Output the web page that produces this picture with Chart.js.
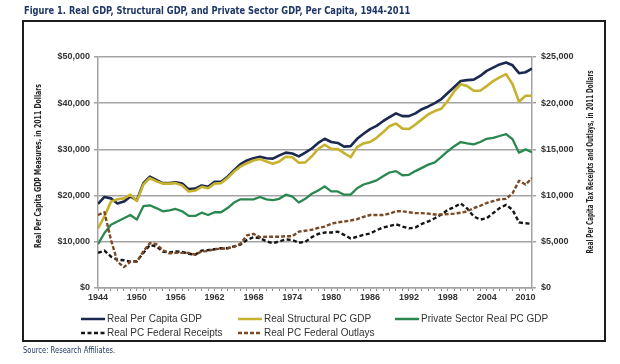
<!DOCTYPE html>
<html>
<head>
<meta charset="utf-8">
<script src="https://cdn.jsdelivr.net/npm/chart.js@4.4.1/dist/chart.umd.min.js"></script>
<style>
  html, body { margin: 0; padding: 0; background: #fff; }
  #wrap  { position: relative; width: 620px; height: 364px; overflow: hidden; }
  #chart { position: absolute; left: 0; top: 0; }
  .frame { position: absolute; left: 22px; top: 20px; width: 580px; height: 318px;
           border: 2px solid #1c1c1c; pointer-events: none; }
  .txt   { position: absolute; white-space: nowrap; transform-origin: 0 50%; }
  .rot   { position: absolute; white-space: nowrap; transform-origin: 50% 50%; }
  .narrow { font-family: 'Liberation Sans Narrow', 'DejaVu Sans Condensed', 'Liberation Sans', sans-serif; }
  #title  { left: 24px; top: 4px; font-size: 11px; font-weight: bold; color: #1f3667; }
  #source { left: 23px; top: 346px; font-size: 8px; color: #1f3667; }
  .axis-title { font-size: 8px; font-weight: bold; color: #222; }
  #legend { position: absolute; left: 81px; top: 312px; display: grid;
            grid-template-columns: 157px 157px 200px; row-gap: 1px;
            font-family: 'Liberation Sans', Arial, sans-serif; font-size: 10px; color: #333; }
  .lg-item { display: flex; align-items: center; height: 13px; }
  .lg-item svg { margin-right: 2px; }
</style>
</head>
<body>
<div id="wrap">
  <canvas id="chart" width="620" height="364"></canvas>
  <div class="frame"></div>
  <div id="title" class="txt narrow">Figure 1. Real GDP, Structural GDP, and Private Sector GDP, Per Capita, 1944-2011</div>
  <div id="ytitle-left" class="rot narrow axis-title" style="left:38px; top:166px;">Real Per Capita GDP Measures, in 2011 Dollars</div>
  <div id="ytitle-right" class="rot narrow axis-title" style="left:590px; top:162px;">Real Per Capita Tax Receipts and Outlays, in 2011 Dollars</div>
  <div id="legend"></div>
  <div id="source" class="txt narrow">Source: Research Affiliates.</div>
</div>
<script>
// ------------------------------------------------------------
// Real GDP / structural GDP / private GDP per capita, 1944-2011
// ------------------------------------------------------------

const YEARS = [
  1944,1945,1946,1947,1948,1949,1950,1951,1952,1953,1954,1955,1956,1957,1958,1959,
  1960,1961,1962,1963,1964,1965,1966,1967,1968,1969,1970,1971,1972,1973,1974,1975,
  1976,1977,1978,1979,1980,1981,1982,1983,1984,1985,1986,1987,1988,1989,1990,1991,
  1992,1993,1994,1995,1996,1997,1998,1999,2000,2001,2002,2003,2004,2005,2006,2007,
  2008,2009,2010,2011,
];

const X_TICK_LABELS = [1944,1950,1956,1962,1968,1974,1980,1986,1992,1998,2004,2010];

// Left axis, $
const REAL_PC_GDP = [
  18200,19700,19400,18300,18700,19800,19000,22700,24100,23400,22700,22700,22900,22600,21400,21500,
  22200,21900,23000,23000,24100,25500,26800,27600,28100,28400,28100,28000,28700,29300,29100,28500,
  29300,30200,31400,32300,31600,31400,30600,30700,32300,33400,34400,35100,36100,37000,37800,37200,
  37200,37800,38700,39300,40000,40900,42200,43500,44800,45000,45100,45900,47000,47700,48400,48800,
  48200,46500,46700,47500,
];

const STRUCTURAL_PC_GDP = [
  12900,15500,18700,19200,19400,20200,18800,22400,23800,23100,22600,22600,22700,22200,20900,21100,
  21900,21600,22600,22700,23800,25200,26300,27000,27600,27900,27400,26900,27400,28400,28300,27100,
  27200,28500,30100,31000,30100,30100,29200,28300,30500,31300,31600,32500,33700,35000,35600,34500,
  34400,35400,36500,37600,38300,38800,40500,42600,44100,43700,42700,42700,43700,44800,45600,46300,
  44100,40300,41600,41600,
];

const PRIVATE_PC_GDP = [
  9500,11900,13700,14400,15100,15800,14800,17700,17900,17300,16600,16800,17100,16600,15600,15600,
  16300,15800,16400,16400,17300,18500,19200,19200,19200,19700,19200,19000,19300,20200,19800,18500,
  19300,20400,21100,22000,20900,20900,20200,20200,21600,22400,22800,23300,24200,25000,25300,24400,
  24500,25300,26000,26700,27200,28400,29600,30700,31600,31300,31100,31600,32300,32500,32900,33300,
  32200,29300,30000,29400,
];

// Right axis, $
const FED_RECEIPTS = [
  3800,4050,3400,3050,3000,2850,2900,3800,4650,4500,3950,3850,3950,3900,3700,3600,
  4050,4100,4200,4300,4300,4500,4700,5200,5500,5400,5050,4850,5050,5250,5200,4900,
  5000,5500,5850,6000,6000,6100,5750,5350,5550,5750,5900,6250,6550,6700,6900,6650,
  6450,6550,6950,7200,7550,7950,8450,8750,9150,8600,7750,7400,7550,8100,8650,9000,
  8450,7100,7000,6950,
];

const FED_OUTLAYS = [
  7900,8200,5200,2850,2250,2850,2850,3950,4850,4750,4100,3750,3800,3800,3800,3600,
  3950,4000,4200,4250,4300,4450,4800,5700,5850,5500,5550,5550,5550,5600,5600,6100,
  6200,6300,6500,6650,6950,7100,7200,7300,7450,7700,7900,7900,7900,8050,8300,8300,
  8200,8100,8100,8050,7950,7950,8000,8050,8150,8300,8650,8900,9200,9400,9600,9650,
  10250,11600,11200,11900,
];

const SERIES = [
  { label: 'Real Per Capita GDP',        data: REAL_PC_GDP,       axis: 'y',  color: '#1b2850', width: 2.6, dash: [],     order: 5 },
  { label: 'Real Structural PC GDP',     data: STRUCTURAL_PC_GDP, axis: 'y',  color: '#c6b22e', width: 2.6, dash: [],     order: 4 },
  { label: 'Private Sector Real PC GDP', data: PRIVATE_PC_GDP,    axis: 'y',  color: '#2a8750', width: 2.3, dash: [],     order: 3 },
  { label: 'Real PC Federal Receipts',   data: FED_RECEIPTS,      axis: 'y2', color: '#151515', width: 2.4, dash: [4, 2.5], order: 2 },
  { label: 'Real PC Federal Outlays',    data: FED_OUTLAYS,       axis: 'y2', color: '#7a4a26', width: 2.4, dash: [4, 2],   order: 1 },
];

const TICK_FONT = { family: "'Liberation Sans', Arial, sans-serif", size: 9, weight: 'bold' };
const GRID_GREY = '#a3a3a3';

// ---- Chart ----

new Chart(document.getElementById('chart'), {
  type: 'line',
  data: {
    datasets: SERIES.map(s => ({
      label:          s.label,
      data:           YEARS.map((yr, i) => ({ x: yr, y: s.data[i] })),
      yAxisID:        s.axis,
      borderColor:    s.color,
      backgroundColor: s.color,
      borderWidth:    s.width,
      borderDash:     s.dash,
      borderJoinStyle: 'round',
      pointRadius:    0,
      tension:        0,
      fill:           false,
      order:          s.order,
    })),
  },
  options: {
    responsive:       false,
    devicePixelRatio: 1,
    animation:        false,
    layout: { padding: { left: 30, right: 25, top: 57, bottom: 40 } },
    plugins: {
      legend:  { display: false },
      tooltip: { enabled: false },
    },
    scales: {
      x: {
        type: 'linear',
        min:  1944,
        max:  2011,
        afterBuildTicks: s => { s.ticks = YEARS.map(v => ({ value: v })); },
        afterFit: s => { s.height = 36; },
        ticks: {
          autoSkip:    false,
          maxRotation: 0,
          padding:     1,
          color:       '#333',
          font:        TICK_FONT,
          callback:    v => X_TICK_LABELS.includes(v) ? String(v) : '',
        },
        grid:   { drawOnChartArea: false, color: '#8c8c8c', tickLength: 3, lineWidth: 1 },
        border: { color: GRID_GREY, width: 1.5 },
      },
      y: {
        position: 'left',
        min: 0,
        max: 50000,
        afterFit: s => { s.width = 68; },
        ticks: {
          stepSize: 10000,
          padding:  4,
          color:    '#333',
          font:     TICK_FONT,
          callback: v => '$' + v.toLocaleString('en-US'),
        },
        grid:   { color: GRID_GREY, lineWidth: 1.5, tickLength: 4 },
        border: { color: GRID_GREY, width: 1.5 },
      },
      y2: {
        position: 'right',
        min: 0,
        max: 25000,
        afterFit: s => { s.width = 63; },
        ticks: {
          stepSize: 5000,
          padding:  5,
          color:    '#333',
          font:     TICK_FONT,
          callback: v => '$' + v.toLocaleString('en-US'),
        },
        grid:   { drawOnChartArea: false, color: GRID_GREY, lineWidth: 1.5, tickLength: 4 },
        border: { color: GRID_GREY, width: 1.5 },
      },
    },
  },
});

// ---- Legend (two rows, three columns) ----

document.getElementById('legend').innerHTML = SERIES.map(s => `
  <div class="lg-item">
    <svg width="24" height="6"><line x1="0" y1="3" x2="24" y2="3" stroke="${s.color}"
      stroke-width="2.5" stroke-dasharray="${s.dash.length ? s.dash.join(' ') : 'none'}"/></svg>
    <span>${s.label}</span>
  </div>`).join('');

// ---- Squeeze condensed texts to the reference widths ----

function fitWidth(id, width, rotated) {
  const el = document.getElementById(id);
  const k  = width / el.offsetWidth;
  el.style.transform = rotated
    ? `translate(-50%,-50%) rotate(-90deg) scaleX(${k})`
    : `scaleX(${k})`;
}

fitWidth('title', 386, false);
fitWidth('source', 92, false);
fitWidth('ytitle-left', 164, true);
fitWidth('ytitle-right', 183, true);
</script>
</body>
</html>
